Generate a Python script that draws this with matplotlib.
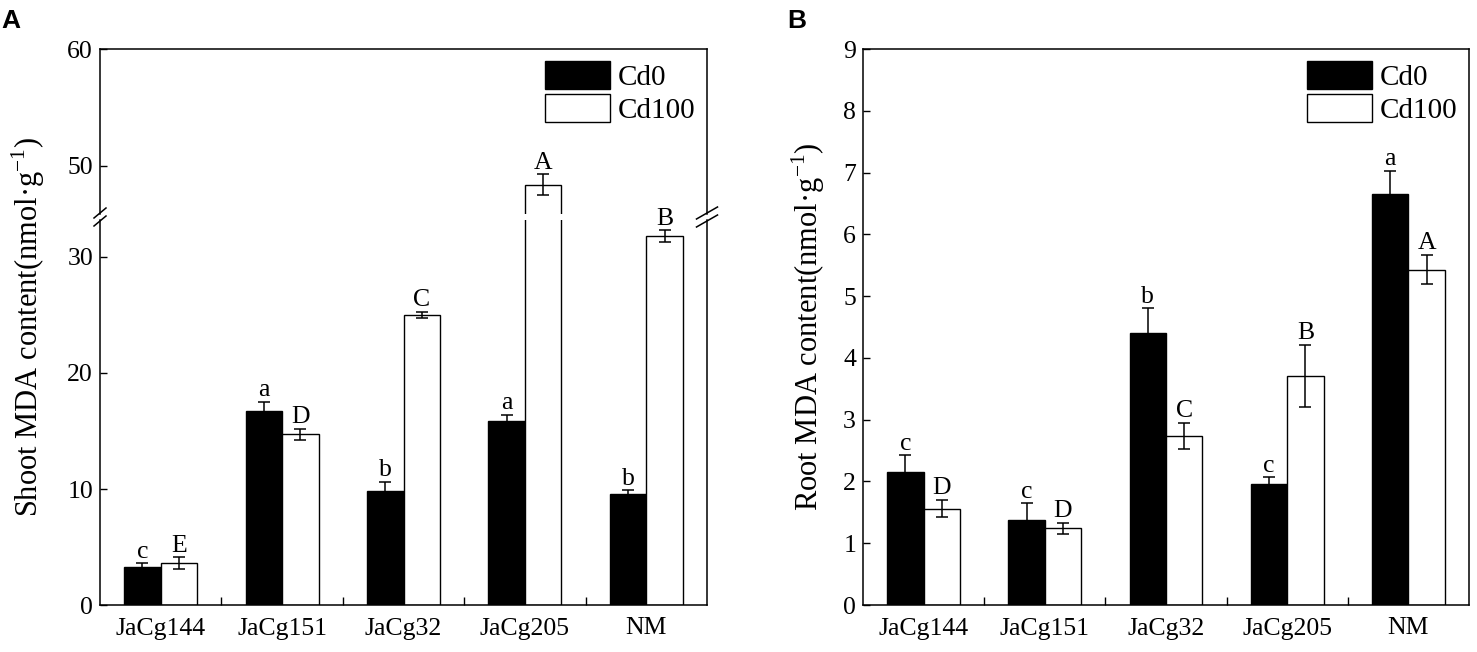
import numpy as np
import matplotlib
matplotlib.use('Agg')
import matplotlib.pyplot as plt
from matplotlib.patches import Patch
from matplotlib.lines import Line2D

W, H = 1477, 652

groups = ['JaCg144', 'JaCg151', 'JaCg32', 'JaCg205', 'NM']
series = ['Cd0', 'Cd100']

# Shoot MDA (panel A)
shoot_cd0 = [3.3, 16.7, 9.8, 15.9, 9.6]
shoot_cd0_err = [0.3, 0.8, 0.8, 0.5, 0.3]
shoot_cd100 = [3.6, 14.7, 25.0, 48.4, 31.8]
shoot_cd100_err = [0.5, 0.5, 0.3, 0.9, 0.5]
shoot_cd0_sig = ['c', 'a', 'b', 'a', 'b']
shoot_cd100_sig = ['E', 'D', 'C', 'A', 'B']

# Root MDA (panel B)
root_cd0 = [2.15, 1.37, 4.41, 1.96, 6.66]
root_cd0_err = [0.27, 0.28, 0.39, 0.11, 0.37]
root_cd100 = [1.56, 1.24, 2.74, 3.71, 5.43]
root_cd100_err = [0.14, 0.09, 0.21, 0.50, 0.24]
root_cd0_sig = ['c', 'c', 'b', 'c', 'a']
root_cd100_sig = ['D', 'D', 'C', 'B', 'A']

plt.rcParams['font.family'] = ['Liberation Serif', 'DejaVu Serif']
plt.rcParams['mathtext.fontset'] = 'custom'
plt.rcParams['mathtext.rm'] = 'Liberation Serif'
plt.rcParams['axes.linewidth'] = 1.1

BW = 0.3
TICK_FS = 18.5
SIG_FS = 18.5
LAB_FS = 22
LEG_FS = 21


def px_axes(fig, left, top, right, bottom):
    # axes box from pixel edges (origin top-left)
    return fig.add_axes([left / W, 1 - bottom / H, (right - left) / W, (bottom - top) / H])


def draw_bars(ax, cd0, e0, cd100, e100):
    x = np.arange(len(groups))
    ekw = dict(ecolor='black', elinewidth=1.1, capsize=4, capthick=1.1)
    ax.bar(x - BW / 2, cd0, BW, color='black', edgecolor='black', lw=1, yerr=e0, error_kw=ekw, label=series[0])
    ax.bar(x + BW / 2, cd100, BW, color='white', edgecolor='black', lw=1, yerr=e100, error_kw=ekw, label=series[1])
    ax.set_xlim(-0.5, len(groups) - 0.5)


def put_letters(axes_list, vals, errs, sigs, offset):
    x = np.arange(len(groups)) + offset
    for xi, v, e, s in zip(x, vals, errs, sigs):
        top = v + e
        for ax in axes_list:
            lo, hi = ax.get_ylim()
            if lo <= top <= hi:
                ax.annotate(s, (xi, top), xytext=(0, 4), textcoords='offset points',
                            ha='center', va='baseline', fontsize=SIG_FS)
                break


def style(ax, show_x=True):
    ax.tick_params(axis='y', direction='in', length=5, width=1, labelsize=TICK_FS, pad=5,
                   right=False)
    if show_x:
        ax.set_xticks(np.arange(len(groups)))
        ax.set_xticklabels(groups)
        ax.set_xticks(np.arange(len(groups) - 1) + 0.5, minor=True)
        ax.tick_params(axis='x', which='major', length=0, labelsize=TICK_FS, pad=9)
        ax.tick_params(axis='x', which='minor', direction='in', length=6, width=1)
    else:
        ax.set_xticks([])


def legend(ax):
    handles = [Patch(facecolor='black', edgecolor='black', lw=1),
               Patch(facecolor='white', edgecolor='black', lw=1)]
    ax.legend(handles, series, loc='upper right', frameon=False, fontsize=LEG_FS,
              handlelength=2.25, handleheight=1.1, handletextpad=0.25, labelspacing=0.12,
              borderaxespad=0.2, borderpad=0.2)


def break_pair(fig, xc, yc, dx, dy, sep):
    for off in (-sep / 2, sep / 2):
        xs = [(xc - dx / 2) / W, (xc + dx / 2) / W]
        ys = [1 - (yc + off + dy / 2) / H, 1 - (yc + off - dy / 2) / H]
        fig.add_artist(Line2D(xs, ys, color='black', lw=1.1, transform=fig.transFigure))


fig = plt.figure(figsize=(W / 100, H / 100), dpi=100)

# ---- Panel A (broken y axis) ----
a_left, a_right, a_top, a_bot = 100, 707, 49, 605
brk_hi, brk_lo = 214, 220
ax_top = px_axes(fig, a_left, a_top, a_right, brk_hi)
ax_low = px_axes(fig, a_left, brk_lo, a_right, a_bot)
for ax in (ax_top, ax_low):
    draw_bars(ax, shoot_cd0, shoot_cd0_err, shoot_cd100, shoot_cd100_err)
ax_low.set_ylim(0, (a_bot - brk_lo) / 11.6)
ax_top.set_ylim(50 - (brk_hi - 166) / 11.7, 60)
ax_low.set_yticks([0, 10, 20, 30])
ax_top.set_yticks([50, 60])
ax_top.spines['bottom'].set_visible(False)
ax_low.spines['top'].set_visible(False)
style(ax_low)
style(ax_top, show_x=False)
put_letters([ax_low, ax_top], shoot_cd0, shoot_cd0_err, shoot_cd0_sig, -BW / 2)
put_letters([ax_low, ax_top], shoot_cd100, shoot_cd100_err, shoot_cd100_sig, BW / 2)
legend(ax_top)
yc = (brk_hi + brk_lo) / 2
break_pair(fig, a_left, yc, 12, 10, 8)
break_pair(fig, a_right, yc, 21, 12, 8)
fig.text(28 / W, 1 - (a_top + a_bot) / 2 / H, 'Shoot MDA content(nmol·g$^{-1}$)',
         rotation=90, ha='center', va='center', fontsize=LAB_FS)

# ---- Panel B ----
b_left, b_right = 863, 1469
ax_b = px_axes(fig, b_left, a_top, b_right, a_bot)
draw_bars(ax_b, root_cd0, root_cd0_err, root_cd100, root_cd100_err)
ax_b.set_ylim(0, 9)
ax_b.set_yticks(range(0, 10))
style(ax_b)
put_letters([ax_b], root_cd0, root_cd0_err, root_cd0_sig, -BW / 2)
put_letters([ax_b], root_cd100, root_cd100_err, root_cd100_sig, BW / 2)
legend(ax_b)
fig.text(808 / W, 1 - (a_top + a_bot) / 2 / H, 'Root MDA content(nmol·g$^{-1}$)',
         rotation=90, ha='center', va='center', fontsize=LAB_FS)

# panel letters
fig.text(1 / W, 1 - 28 / H, 'A', family='Liberation Sans', weight='bold', fontsize=19)
fig.text(787 / W, 1 - 28 / H, 'B', family='Liberation Sans', weight='bold', fontsize=19)

fig.savefig('out.png', dpi=100)
